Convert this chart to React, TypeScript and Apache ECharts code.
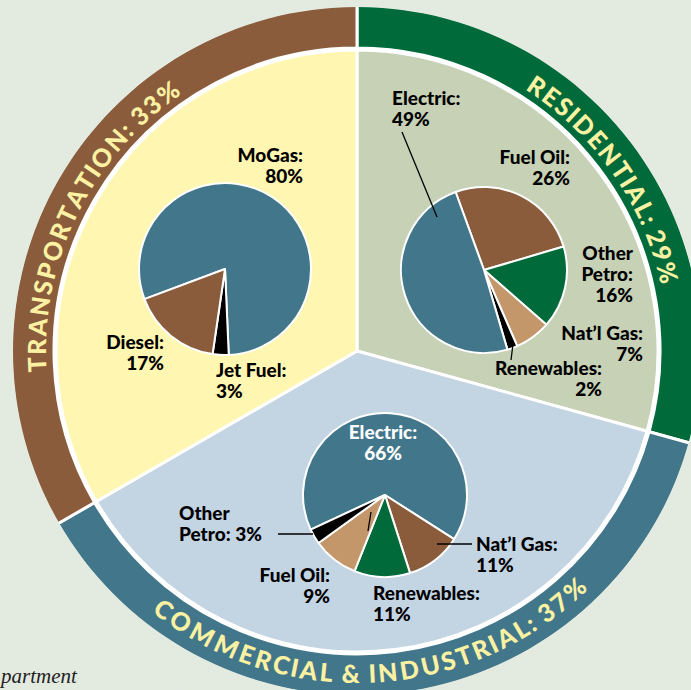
import React, { useEffect, useRef } from 'react';
import * as echarts from 'echarts';

// ---- data ----
const sectors = ['Residential', 'Commercial & Industrial', 'Transportation'];
const sectorShares = [29, 37, 33];

const transportFuels = ['MoGas', 'Jet Fuel', 'Diesel'];
const transportShares = [80, 3, 17];

const residentialFuels = ['Fuel Oil', 'Other Petro', 'Nat’l Gas', 'Renewables', 'Electric'];
const residentialShares = [26, 16, 7, 2, 49];

const commercialFuels = ['Electric', 'Nat’l Gas', 'Renewables', 'Fuel Oil', 'Other Petro'];
const commercialShares = [66, 11, 11, 9, 3];

const footerText = 'partment';

// ---- styles / layout ----
const COL = {
  bg: '#e3eae0',
  brown: '#8a5c3c',
  yellow: '#fff7b1',
  green: '#006a3a',
  sage: '#c6d1b6',
  teal: '#42778b',
  lblue: '#c3d4e2',
  tan: '#c4976b',
  black: '#000000',
  ringText: '#fbf1a2',
};

const CX = 357;
const CY = 351;
const sectorFill = [COL.sage, COL.lblue, COL.yellow];
const sectorRing = [COL.green, COL.teal, COL.brown];
// ring text arcs: [startDeg, endDeg, radius, bottom] (clock degrees)
const ringTextArcs: [number, number, number, boolean][] = [
  [32.5, 78, 321, false],
  [218.5, 135.5, 322, true],
  [-94, -34, 321, false],
];

const transportColors = [COL.teal, COL.black, COL.brown];
const residentialColors = [COL.brown, COL.green, COL.tan, COL.black, COL.teal];
const commercialColors = [COL.teal, COL.brown, COL.green, COL.tan, COL.black];

type LP = { x: number; y: number; align: string; wrap?: string; color?: string };
const transportLabelPos: LP[] = [
  { x: 303, y: 144, align: 'right' },
  { x: 216, y: 359, align: 'left' },
  { x: 164, y: 331, align: 'right' },
];
const residentialLabelPos: LP[] = [
  { x: 570, y: 146, align: 'right' },
  { x: 633, y: 242, align: 'right', wrap: 'stack' },
  { x: 643, y: 322, align: 'right' },
  { x: 602, y: 357, align: 'right' },
  { x: 392, y: 87, align: 'left' },
];
const commercialLabelPos: LP[] = [
  { x: 383, y: 421, align: 'center', color: '#ffffff' },
  { x: 476, y: 533, align: 'left' },
  { x: 373, y: 582, align: 'left' },
  { x: 330, y: 564, align: 'right' },
  { x: 179, y: 502, align: 'left', wrap: 'inline' },
];

const leaderLines = [
  [402, 132, 437, 217],
  [511, 360, 513, 344],
  [278, 534, 313, 534],
  [437, 544, 472, 544],
  [371, 512, 368, 531],
];

const LABEL_FONT = '900 19px Lato';
const RING_FONT = '900 25px Lato';

function labelText(name: string, value: number, wrap?: string) {
  if (wrap === 'stack') return name.split(' ').join('\n') + ':\n' + value + '%';
  if (wrap === 'inline') {
    const w = name.split(' ');
    return w[0] + '\n' + w.slice(1).join(' ') + ': ' + value + '%';
  }
  return name + ':\n' + value + '%';
}

function arcChars(text: string, r: number, a0: number, a1: number, bottom: boolean) {
  const ctx = document.createElement('canvas').getContext('2d')!;
  ctx.font = RING_FONT;
  const chars = Array.from(text);
  const widths = chars.map((ch) => ctx.measureText(ch).width);
  const total = widths.reduce((s, w) => s + w, 0);
  let cum = 0;
  return chars.map((ch, i) => {
    const t = (cum + widths[i] / 2) / total;
    cum += widths[i];
    const rad = ((a0 + (a1 - a0) * t) * Math.PI) / 180;
    return {
      type: 'text',
      z: 100,
      x: CX + r * Math.sin(rad),
      y: CY - r * Math.cos(rad),
      rotation: bottom ? Math.PI - rad : -rad,
      silent: true,
      style: {
        text: ch,
        font: RING_FONT,
        fill: COL.ringText,
        align: 'center',
        verticalAlign: 'middle',
        textAlign: 'center',
        textVerticalAlign: 'middle',
      },
    };
  });
}

function pieLabels(names: string[], values: number[], pos: LP[]) {
  return names.map((n, i) => ({
    type: 'text',
    z: 100,
    x: pos[i].x,
    y: pos[i].y,
    silent: true,
    style: {
      text: labelText(n, values[i], pos[i].wrap),
      font: LABEL_FONT,
      lineHeight: 21,
      fill: pos[i].color || '#000000',
      align: pos[i].align,
      verticalAlign: 'top',
      textAlign: pos[i].align,
      textVerticalAlign: 'top',
    },
  }));
}

function subPie(names: string[], values: number[], colors: string[], center: number[], r: number, startAngle: number) {
  return {
    type: 'pie',
    z: 5,
    center,
    radius: [0, r],
    startAngle,
    clockwise: true,
    silent: true,
    label: { show: false },
    labelLine: { show: false },
    emphasis: { disabled: true },
    itemStyle: { borderColor: '#ffffff', borderWidth: 2 },
    data: names.map((n, i) => ({ name: n, value: values[i], itemStyle: { color: colors[i] } })),
  };
}

export default function App() {
  const ref = useRef<HTMLDivElement>(null);
  useEffect(() => {
    document.body.style.margin = '0';
    const chart = echarts.init(ref.current!, null, { renderer: 'svg' });
    const graphics: any[] = [];
    sectors.forEach((s, i) => {
      const [a0, a1, r, bottom] = ringTextArcs[i];
      graphics.push(...arcChars(s.toUpperCase() + ': ' + sectorShares[i] + '%', r, a0, a1, bottom));
    });
    graphics.push(...pieLabels(transportFuels, transportShares, transportLabelPos));
    graphics.push(...pieLabels(residentialFuels, residentialShares, residentialLabelPos));
    graphics.push(...pieLabels(commercialFuels, commercialShares, commercialLabelPos));
    leaderLines.forEach(([x1, y1, x2, y2]) =>
      graphics.push({ type: 'line', z: 100, silent: true, shape: { x1, y1, x2, y2 }, style: { stroke: '#000', lineWidth: 1.3 } })
    );
    graphics.push({
      type: 'text',
      z: 100,
      x: 1,
      y: 676,
      silent: true,
      style: {
        text: footerText,
        font: 'italic 21px "Liberation Serif"',
        fill: '#222',
        align: 'left',
        verticalAlign: 'middle',
        textAlign: 'left',
        textVerticalAlign: 'middle',
      },
    });

    const sectorData = (cols: string[]) =>
      sectors.map((s, i) => ({ name: s, value: sectorShares[i], itemStyle: { color: cols[i] } }));

    chart.setOption({
      animation: false,
      backgroundColor: COL.bg,
      series: [
        {
          type: 'pie',
          z: 1,
          center: [CX, CY],
          radius: [303, 346],
          startAngle: 90,
          silent: true,
          label: { show: false },
          emphasis: { disabled: true },
          itemStyle: { borderColor: '#ffffff', borderWidth: 3 },
          data: sectorData(sectorRing),
        },
        {
          type: 'pie',
          z: 2,
          center: [CX, CY],
          radius: [344, 380],
          startAngle: 90,
          silent: true,
          label: { show: false },
          emphasis: { disabled: true },
          itemStyle: { borderWidth: 0 },
          data: [{ name: 'outside', value: 1, itemStyle: { color: COL.bg } }],
        },
        {
          type: 'pie',
          z: 2,
          center: [CX, CY],
          radius: [0, 301],
          startAngle: 90,
          silent: true,
          label: { show: false },
          emphasis: { disabled: true },
          itemStyle: { borderColor: '#ffffff', borderWidth: 3 },
          data: sectorData(sectorFill),
        },
        subPie(transportFuels, transportShares, transportColors, [225, 269], 86, 200.5),
        subPie(residentialFuels, residentialShares, residentialColors, [484, 270], 83, 110),
        subPie(commercialFuels, commercialShares, commercialColors, [385, 495], 82, 205),
      ],
      graphic: { elements: graphics },
    });
    return () => chart.dispose();
  }, []);
  return <div ref={ref} style={{ width: 691, height: 690 }} />;
}
